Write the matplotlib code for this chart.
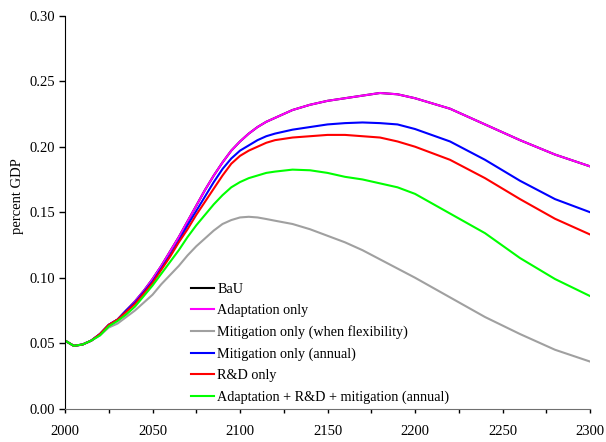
import numpy as np
import matplotlib
matplotlib.use("Agg")
import matplotlib.pyplot as plt
from matplotlib.ticker import MultipleLocator, FormatStrFormatter

# values (percent GDP)
years = [2000, 2005, 2010, 2015, 2020, 2025, 2030, 2035, 2040, 2045, 2050, 2055,
         2060, 2065, 2070, 2075, 2080, 2085, 2090, 2095, 2100, 2105, 2110, 2115,
         2120, 2130, 2140, 2150, 2160, 2170, 2180, 2190, 2200, 2220, 2240, 2260,
         2280, 2300]

bau = [0.052, 0.048, 0.049, 0.052, 0.057, 0.064, 0.068, 0.075, 0.082, 0.090, 0.099, 0.109,
       0.120, 0.131, 0.143, 0.155, 0.167, 0.178, 0.188, 0.197, 0.204, 0.210, 0.215, 0.219,
       0.222, 0.228, 0.232, 0.235, 0.237, 0.239, 0.241, 0.240, 0.237, 0.229, 0.217, 0.205,
       0.194, 0.185]
adaptation = [0.052, 0.048, 0.049, 0.052, 0.057, 0.064, 0.068, 0.075, 0.082, 0.090, 0.099, 0.109,
              0.120, 0.131, 0.143, 0.155, 0.167, 0.178, 0.188, 0.197, 0.204, 0.210, 0.215, 0.219,
              0.222, 0.228, 0.232, 0.235, 0.237, 0.239, 0.241, 0.240, 0.237, 0.229, 0.217, 0.205,
              0.194, 0.185]
mitig_flex = [0.052, 0.048, 0.049, 0.052, 0.056, 0.062, 0.065, 0.070, 0.075, 0.081, 0.087, 0.095,
              0.102, 0.109, 0.117, 0.124, 0.130, 0.136, 0.141, 0.144, 0.146, 0.1465, 0.146, 0.1448,
              0.1435, 0.141, 0.137, 0.132, 0.127, 0.121, 0.114, 0.107, 0.100, 0.085, 0.070, 0.057,
              0.045, 0.036]
mitig_annual = [0.052, 0.048, 0.049, 0.052, 0.057, 0.064, 0.068, 0.075, 0.081, 0.089, 0.097, 0.107,
                0.117, 0.128, 0.140, 0.151, 0.162, 0.173, 0.183, 0.191, 0.197, 0.201, 0.205, 0.208,
                0.210, 0.213, 0.215, 0.217, 0.218, 0.2185, 0.218, 0.217, 0.2135, 0.204, 0.190, 0.174,
                0.160, 0.150]
rnd = [0.052, 0.048, 0.049, 0.052, 0.057, 0.064, 0.068, 0.074, 0.080, 0.088, 0.096, 0.106,
       0.116, 0.127, 0.137, 0.148, 0.158, 0.168, 0.178, 0.187, 0.193, 0.197, 0.200, 0.203,
       0.205, 0.207, 0.208, 0.209, 0.209, 0.208, 0.207, 0.204, 0.200, 0.190, 0.176, 0.160,
       0.145, 0.133]
combined = [0.052, 0.048, 0.049, 0.052, 0.056, 0.063, 0.067, 0.072, 0.078, 0.086, 0.094, 0.103,
            0.112, 0.121, 0.131, 0.140, 0.148, 0.156, 0.163, 0.169, 0.173, 0.176, 0.178, 0.180,
            0.181, 0.1825, 0.182, 0.180, 0.177, 0.175, 0.172, 0.169, 0.164, 0.149, 0.134, 0.115,
            0.099, 0.086]

series = [
    ("BaU", bau, "black"),
    ("Adaptation only", adaptation, "#FF00FF"),
    ("Mitigation only (when flexibility)", mitig_flex, "#A0A0A0"),
    ("Mitigation only (annual)", mitig_annual, "#0000FF"),
    ("R&D only", rnd, "#FF0000"),
    ("Adaptation + R&D + mitigation (annual)", combined, "#00FF00"),
]

plt.rcParams['font.family'] = ['Liberation Serif', 'DejaVu Serif']

fig = plt.figure(figsize=(6.06, 4.42), dpi=100)
ax = fig.add_axes([0.1073, 0.0753, 0.8663, 0.8892])

for label, vals, color in series:
    ax.plot(years, vals, color=color, lw=1.5, label=label)

ax.set_xlim(2000, 2300)
ax.set_ylim(0, 0.30)
ax.xaxis.set_major_locator(MultipleLocator(50))
ax.xaxis.set_minor_locator(MultipleLocator(25))
ax.yaxis.set_major_locator(MultipleLocator(0.05))
ax.yaxis.set_major_formatter(FormatStrFormatter('%.2f'))
ax.tick_params(axis='both', which='both', direction='out', width=1,
               labelsize=10.5, color='black')
ax.tick_params(axis='x', which='both', length=3, pad=9)
ax.tick_params(axis='y', length=4, pad=3)

for s in ['top', 'right']:
    ax.spines[s].set_visible(False)
ax.spines['left'].set_color('black')
ax.spines['bottom'].set_color('#707070')

ax.set_ylabel("percent GDP", fontsize=10.5)
ax.yaxis.set_label_coords(-0.079, 0.54)

ax.legend(loc='upper left', bbox_to_anchor=(0.2406, 0.3205), frameon=False,
          fontsize=10.2, handlelength=1.6, handletextpad=0.24, labelspacing=0.58,
          borderaxespad=0, borderpad=0)

fig.savefig("out.png", dpi=100)
